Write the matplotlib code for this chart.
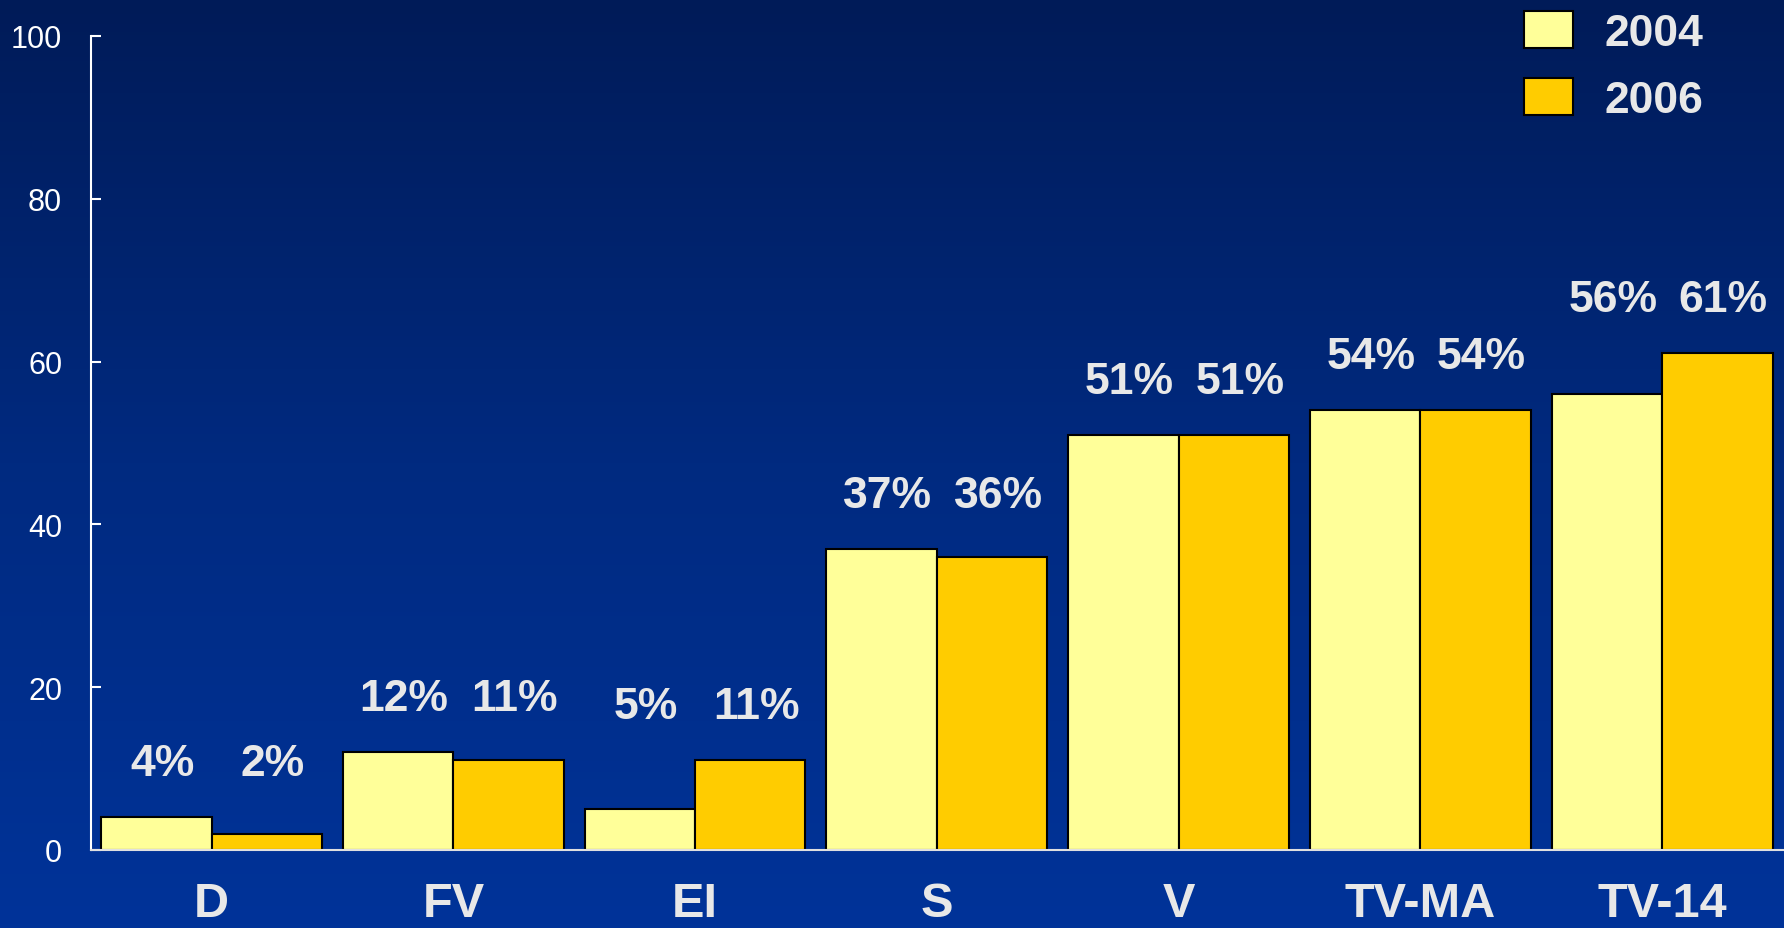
import numpy as np
import matplotlib
matplotlib.use("Agg")
import matplotlib.pyplot as plt
from matplotlib.colors import LinearSegmentedColormap

categories = ["D", "FV", "EI", "S", "V", "TV-MA", "TV-14"]
series_names = ["2004", "2006"]
values_2004 = [4, 12, 5, 37, 51, 54, 56]
values_2006 = [2, 11, 11, 36, 51, 54, 61]
yticks = [0, 20, 40, 60, 80, 100]

plt.rcParams['font.family'] = ['Liberation Sans', 'DejaVu Sans']

W, H, DPI = 1784, 929, 100
fig = plt.figure(figsize=(W / DPI, H / DPI), dpi=DPI)

# background gradient
bg = fig.add_axes([0, 0, 1, 1], zorder=-10)
cmap = LinearSegmentedColormap.from_list("bg", ["#001b58", "#002a80", "#003399"])
grad = np.linspace(0, 1, 256).reshape(-1, 1)
bg.imshow(grad, aspect="auto", cmap=cmap, extent=[0, 1, 0, 1], origin="upper")
bg.set_axis_off()

ax = fig.add_axes([90.7 / W, 78 / H, (1783 - 90.7) / W, (851 - 37) / H])
ax.set_facecolor("none")

x = np.arange(len(categories))
w = 0.4566
c04, c06 = "#ffff99", "#ffcc00"
b1 = ax.bar(x - w / 2, values_2004, w, color=c04, edgecolor="black", linewidth=1.5,
            label=series_names[0], zorder=3)
b2 = ax.bar(x + w / 2, values_2006, w, color=c06, edgecolor="black", linewidth=1.5,
            label=series_names[1], zorder=3)

lab_color = "#e8e8e8"
dx = 0.025
for i in range(len(categories)):
    top = max(values_2004[i], values_2006[i]) + 6.6
    ax.text(x[i] - w / 2 + dx, top, f"{values_2004[i]}%", ha="center", va="center",
            fontsize=32, fontweight="bold", color=lab_color)
    ax.text(x[i] + w / 2 + dx, top, f"{values_2006[i]}%", ha="center", va="center",
            fontsize=32, fontweight="bold", color=lab_color)

ax.set_xlim(-0.5, 6.5)
ax.set_ylim(0, 100)
ax.set_yticks(yticks)
ax.set_yticklabels([str(t) for t in yticks])
ax.set_xticks(x)
ax.set_xticklabels(categories)

for s in ["top", "right"]:
    ax.spines[s].set_visible(False)
ax.spines["left"].set_color("white")
ax.spines["left"].set_linewidth(1.5)
ax.spines["bottom"].set_color("#e0e0e0")
ax.spines["bottom"].set_linewidth(1.5)
ax.spines["bottom"].set_zorder(4)

ax.tick_params(axis="y", direction="in", length=7.5, width=1.5, color="white",
               labelsize=22, labelcolor="white", pad=20.5)
ax.tick_params(axis="x", length=0, pad=22, labelsize=35, labelcolor=lab_color)
for t in ax.get_xticklabels():
    t.set_fontweight("bold")

leg = ax.legend(handles=[b1, b2], loc="upper left",
                bbox_to_anchor=(1524 / W, 1 - 11.5 / H), bbox_transform=fig.transFigure,
                frameon=False, borderpad=0, borderaxespad=0,
                handlelength=1.10, handleheight=0.92, handletextpad=0.72,
                labelspacing=0.54, prop={"size": 32, "weight": "bold"})
for t in leg.get_texts():
    t.set_color(lab_color)

fig.savefig("out.png", dpi=DPI)
